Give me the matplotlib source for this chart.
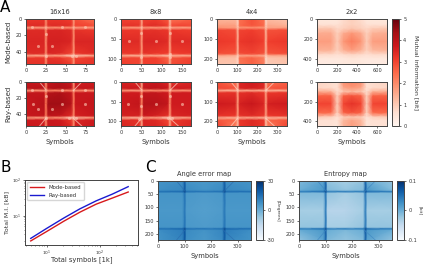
import matplotlib
matplotlib.use("Agg")
import matplotlib.pyplot as plt
import numpy as np

W, H = 423.0, 270.0

# line nodes of the maps, as fractions of the axis (values below sit on these)
fine_x = [0, .265, .295, .325, .50, .67, .70, .73, 1]
fine_y = [0, .15, .20, .25, .50, .77, .82, .87, 1]
wide_x = [0, .20, .29, .38, .50, .63, .71, .80, 1]
wide_y = [0, .13, .22, .32, .50, .70, .80, .88, 1]
thin_x = [0, .265, .286, .307, .50, .693, .714, .735, 1]
thin_y = [0, .16, .185, .21, .50, .79, .815, .84, 1]

mode_16 = [[3.2, 3.2, 1.9, 3.2, 3.2, 3.1, 1.7, 2.8, 2.4],
           [3.4, 3.4, 2.1, 3.4, 3.4, 3.3, 2.0, 3.1, 2.9],
           [1.8, 1.7, 1.1, 1.8, 1.9, 1.9, 1.1, 1.7, 1.7],
           [3.4, 3.4, 2.0, 3.5, 3.5, 3.4, 2.0, 3.3, 3.2],
           [3.5, 3.5, 2.0, 3.6, 3.6, 3.5, 2.0, 3.5, 3.5],
           [3.4, 3.4, 2.0, 3.5, 3.4, 3.0, 1.8, 3.2, 3.4],
           [1.6, 1.6, 1.0, 1.7, 1.7, 0.9, 0.8, 1.1, 1.7],
           [3.2, 3.2, 1.9, 3.3, 3.2, 2.8, 1.8, 3.0, 3.2],
           [3.3, 3.3, 2.0, 3.4, 3.4, 3.1, 1.9, 3.2, 3.3]]
ray_16 = [[3.9, 3.7, 1.8, 3.9, 4.1, 3.8, 1.6, 3.6, 3.7],
          [4.0, 4.1, 2.2, 4.1, 4.2, 4.0, 2.2, 3.9, 3.9],
          [1.9, 1.8, 1.1, 2.1, 2.1, 2.1, 1.2, 1.9, 1.9],
          [3.9, 3.9, 2.2, 4.1, 4.2, 3.9, 2.2, 3.8, 3.8],
          [3.8, 4.1, 2.4, 4.4, 4.4, 4.1, 2.3, 3.8, 3.9],
          [3.8, 3.9, 2.2, 4.0, 3.9, 3.4, 2.0, 3.6, 3.8],
          [1.7, 1.7, 1.0, 1.9, 1.8, 0.9, 0.8, 1.2, 1.9],
          [3.7, 3.7, 2.0, 3.8, 3.7, 3.2, 2.0, 3.5, 3.7],
          [3.8, 3.7, 2.0, 3.8, 3.8, 3.4, 2.0, 3.6, 3.8]]
mode_8 = [[3.0, 3.0, 1.5, 3.0, 3.1, 2.7, 1.2, 2.3, 2.6],
          [3.3, 3.3, 1.8, 3.3, 3.4, 3.1, 1.5, 3.0, 3.0],
          [1.8, 1.7, 1.0, 1.8, 1.8, 1.7, 0.9, 1.6, 1.7],
          [3.2, 3.2, 1.8, 3.3, 3.3, 3.2, 1.8, 3.2, 3.1],
          [3.4, 3.4, 1.8, 3.5, 3.5, 3.4, 1.8, 3.4, 3.4],
          [3.2, 3.2, 1.8, 3.3, 3.2, 3.1, 1.6, 3.1, 3.2],
          [1.5, 1.4, 0.9, 1.6, 1.6, 1.2, 0.8, 1.4, 1.6],
          [3.0, 3.0, 1.6, 3.1, 3.1, 2.6, 1.5, 2.8, 3.0],
          [3.1, 3.0, 1.6, 3.1, 3.1, 2.8, 1.5, 2.9, 3.1]]
ray_8 = [[3.6, 3.4, 1.4, 3.7, 3.8, 3.5, 1.3, 3.3, 3.5],
         [3.7, 3.8, 1.9, 3.9, 4.0, 3.8, 1.8, 3.7, 3.7],
         [1.8, 1.7, 1.1, 1.9, 2.0, 1.9, 1.1, 1.8, 1.9],
         [3.7, 3.7, 2.1, 3.9, 3.9, 3.7, 2.0, 3.7, 3.7],
         [3.7, 3.9, 2.2, 4.1, 4.1, 3.9, 2.1, 3.7, 3.7],
         [3.6, 3.6, 2.0, 3.8, 3.6, 3.3, 1.8, 3.5, 3.6],
         [1.5, 1.3, 0.9, 1.7, 1.7, 0.9, 0.8, 1.3, 1.7],
         [3.4, 3.3, 1.7, 3.5, 3.4, 3.0, 1.7, 3.2, 3.4],
         [3.5, 3.3, 1.6, 3.5, 3.5, 3.2, 1.6, 3.2, 3.5]]
mode_4 = [[1.3, 1.3, 0.8, 2.4, 2.8, 2.4, 0.8, 1.2, 1.1],
          [1.7, 1.7, 1.0, 2.5, 2.8, 2.5, 1.0, 1.6, 1.4],
          [1.9, 1.7, 1.1, 1.8, 1.9, 1.8, 1.1, 1.6, 1.7],
          [3.0, 2.9, 1.4, 3.0, 3.1, 2.9, 1.4, 2.8, 2.9],
          [3.2, 3.1, 1.5, 3.2, 3.3, 3.1, 1.5, 3.1, 3.2],
          [2.9, 2.8, 1.4, 2.9, 3.0, 2.8, 1.4, 2.8, 2.9],
          [1.6, 1.5, 0.9, 1.6, 1.7, 1.5, 0.9, 1.5, 1.6],
          [1.2, 1.2, 0.8, 2.4, 2.6, 2.2, 0.8, 1.1, 1.2],
          [1.1, 1.1, 0.7, 2.3, 2.6, 2.2, 0.7, 1.0, 1.1]]
ray_4 = [[2.8, 2.4, 1.2, 3.5, 3.7, 3.5, 1.2, 2.4, 2.6],
         [3.0, 2.8, 1.4, 3.5, 3.6, 3.4, 1.4, 2.8, 2.9],
         [1.5, 1.4, 0.9, 1.5, 1.6, 1.5, 0.9, 1.4, 1.5],
         [3.3, 3.3, 1.7, 3.3, 3.4, 3.2, 1.7, 3.2, 3.3],
         [3.7, 3.6, 1.8, 3.6, 3.8, 3.5, 1.8, 3.6, 3.7],
         [3.3, 3.2, 1.7, 3.3, 3.4, 3.2, 1.7, 3.2, 3.3],
         [1.5, 1.4, 0.9, 1.5, 1.6, 1.4, 0.9, 1.3, 1.5],
         [2.8, 2.5, 1.3, 3.2, 3.4, 3.2, 1.3, 2.5, 2.8],
         [3.0, 2.2, 1.2, 3.2, 3.4, 3.2, 1.2, 2.2, 3.0]]
mode_2 = [[0.4, 0.4, 0.4, 0.7, 0.9, 0.7, 0.4, 0.4, 0.4],
          [0.6, 0.6, 0.6, 0.8, 0.9, 0.8, 0.6, 0.6, 0.6],
          [1.1, 1.1, 0.8, 0.9, 1.1, 0.9, 0.8, 1.0, 1.1],
          [1.5, 1.5, 0.9, 1.5, 1.8, 1.5, 0.9, 1.4, 1.5],
          [1.7, 1.7, 1.0, 1.8, 2.2, 1.8, 1.0, 1.7, 1.7],
          [1.4, 1.4, 0.9, 1.4, 1.7, 1.4, 0.9, 1.3, 1.4],
          [0.7, 0.7, 0.6, 0.7, 0.8, 0.7, 0.6, 0.7, 0.7],
          [0.4, 0.4, 0.4, 0.4, 0.5, 0.4, 0.4, 0.4, 0.4],
          [0.3, 0.3, 0.3, 0.4, 0.4, 0.4, 0.3, 0.3, 0.3]]
ray_2 = [[0.8, 0.7, 0.6, 1.9, 2.1, 1.9, 0.6, 0.7, 0.8],
         [0.8, 0.7, 0.6, 1.6, 1.8, 1.6, 0.6, 0.7, 0.8],
         [1.5, 1.4, 0.7, 1.1, 1.3, 1.1, 0.7, 1.4, 1.5],
         [2.6, 2.6, 0.9, 2.6, 2.8, 2.6, 0.9, 2.6, 2.6],
         [3.0, 3.0, 1.0, 3.0, 3.3, 3.0, 1.0, 3.0, 3.0],
         [2.5, 2.5, 0.9, 2.6, 2.8, 2.6, 0.9, 2.5, 2.5],
         [1.0, 0.9, 0.6, 1.0, 1.1, 1.0, 0.6, 0.9, 1.0],
         [0.6, 0.6, 0.5, 1.3, 1.6, 1.3, 0.5, 0.6, 0.6],
         [0.6, 0.6, 0.5, 1.4, 1.7, 1.4, 0.5, 0.6, 0.6]]

angle_map = [[7, 8, 19, 7, 6, 7, 19, 8, 7],
             [8, 10, 21, 9, 7, 9, 21, 10, 8],
             [15, 16, 25, 15, 14, 15, 25, 16, 15],
             [7, 7, 15, 6, 5, 6, 15, 7, 7],
             [6, 6, 13, 5, 4, 5, 13, 6, 6],
             [7, 7, 15, 6, 5, 6, 15, 7, 7],
             [15, 17, 25, 15, 14, 15, 25, 17, 15],
             [8, 12, 22, 9, 7, 10, 21, 12, 8],
             [7, 11, 21, 8, 6, 9, 20, 10, 7]]
entropy_map = [[-.01, .01, .06, -.02, -.03, -.02, .06, .00, -.02],
               [.00, .02, .07, -.01, -.02, -.01, .07, .02, -.01],
               [.04, .05, .08, .04, .04, .04, .08, .05, .04],
               [-.01, -.01, .05, -.02, -.03, -.02, .05, -.01, -.01],
               [-.03, -.03, .04, -.04, -.04, -.03, .04, -.03, -.03],
               [-.02, -.02, .05, -.03, -.03, -.02, .05, -.02, -.02],
               [.04, .05, .08, .04, .04, .04, .08, .05, .04],
               [.00, .02, .07, .00, -.01, .00, .07, .02, .00],
               [-.02, .01, .06, -.01, -.02, -.01, .06, .01, -.02]]

# x limit, y limit and ticks of each column of panel A
sizes = ["16x16", "8x8", "4x4", "2x2"]
x_lims = [85, 172, 350, 700]
y_lims = [55, 112, 224, 448]
x_ticks = [[0, 25, 50, 75], [0, 50, 100, 150], [0, 100, 200, 300], [0, 200, 400, 600]]
y_ticks = [[0, 20, 40], [0, 50, 100], [0, 100, 200], [0, 200, 400]]
mode_maps = [mode_16, mode_8, mode_4, mode_2]
ray_maps = [ray_16, ray_8, ray_4, ray_2]

# bright spots on the 16x16 and 8x8 maps, symbol and row index
mode_16_spot_x = [15, 33, 25, 45, 74, 8, 58, 62, 25]
mode_16_spot_y = [33, 33, 18, 10, 10, 10, 45, 45, 45]
ray_16_spot_x = [9, 25, 15, 33, 45, 74, 45, 74, 8, 54, 62, 25]
ray_16_spot_y = [28, 18, 34, 34, 28, 28, 10, 10, 10, 45, 45, 45]
mode_8_spot_x = [20, 85, 150, 50, 120, 50, 120, 120]
mode_8_spot_y = [55, 55, 55, 35, 35, 95, 95, 88]
ray_8_spot_x = [18, 85, 150, 50, 120, 45, 115, 125, 50]
ray_8_spot_y = [55, 55, 55, 35, 35, 95, 92, 92, 60]

# corner streaks as fractions of the axis: x0, y0, x1, y1
corner_streaks = [[.20, 0, .29, .17], [.82, 0, .70, .19], [.20, 1, .29, .83], [.82, 1, .70, .83]]

# panel B
total_symbols = [5, 10, 21, 42, 85, 170, 340]
mi_mode = [1.95, 3.6, 7.0, 12.5, 21, 31, 46]
mi_ray = [2.3, 4.4, 8.6, 15.5, 26, 40, 65]

TEXT = "#333333"


def add_axes(fig, left, top, right, bottom):
    return fig.add_axes([left / W, 1 - bottom / H, (right - left) / W, (bottom - top) / H])


def style(ax):
    ax.tick_params(labelsize=3.6, length=1.5, width=0.5, pad=1.5, colors=TEXT)
    for s in ax.spines.values():
        s.set_linewidth(0.7)
        s.set_color("#444444")


def draw_map(ax, values, xn, yn, xlim, ylim, cmap, vmin, vmax):
    x = np.array(xn) * xlim
    y = np.array(yn) * ylim
    m = ax.pcolormesh(x, y, np.array(values), shading="gouraud", cmap=cmap, vmin=vmin, vmax=vmax)
    ax.set_xlim(0, xlim)
    ax.set_ylim(ylim, 0)
    style(ax)
    return m


def streaks(ax, xlim, ylim, color, lw, alpha):
    for x0, y0, x1, y1 in corner_streaks:
        ax.plot([x0 * xlim, x1 * xlim], [y0 * ylim, y1 * ylim], color=color, lw=lw, alpha=alpha)


def cbar(fig, mesh, left, top, right, bottom, ticks, labels):
    cax = add_axes(fig, left, top, right, bottom)
    cb = fig.colorbar(mesh, cax=cax)
    cb.set_ticks(ticks)
    cb.set_ticklabels(labels)
    style(cax)
    cb.outline.set_linewidth(0.7)
    cb.outline.set_edgecolor("#444444")
    return cb


fig = plt.figure(figsize=(W / 100, H / 100), dpi=100)

col_left = [26, 121, 217, 317]
col_right = [94, 191, 287, 387]
spots_top = [(mode_16_spot_x, mode_16_spot_y), (mode_8_spot_x, mode_8_spot_y)]
spots_bottom = [(ray_16_spot_x, ray_16_spot_y), (ray_8_spot_x, ray_8_spot_y)]
for i in range(4):
    xn = wide_x if i == 3 else fine_x
    yn = wide_y if i == 3 else fine_y
    ax = add_axes(fig, col_left[i], 19, col_right[i], 64)
    mesh = draw_map(ax, mode_maps[i], xn, yn, x_lims[i], y_lims[i], "Reds", 0, 5)
    if i < 2:
        ax.scatter(spots_top[i][0], spots_top[i][1], s=5, color="#fdc9b4", alpha=0.6, linewidths=0)
    ax.set_xticks(x_ticks[i])
    ax.set_yticks(y_ticks[i])
    ax.set_title(sizes[i], fontsize=4.8, color=TEXT, pad=3.5)
    if i == 0:
        ax.set_ylabel("Mode-based", fontsize=5, color=TEXT, labelpad=3)

    ax = add_axes(fig, col_left[i], 82, col_right[i], 126)
    mesh = draw_map(ax, ray_maps[i], xn, yn, x_lims[i], y_lims[i], "Reds", 0, 5)
    if i < 2:
        ax.scatter(spots_bottom[i][0], spots_bottom[i][1], s=5, color="#fdc9b4", alpha=0.6, linewidths=0)
    if i < 3:
        streaks(ax, x_lims[i], y_lims[i], "#fdd5c4", 0.7, 0.7)
    ax.set_xticks(x_ticks[i])
    ax.set_yticks(y_ticks[i])
    ax.set_xlabel("Symbols", fontsize=4.9, color=TEXT, labelpad=3)
    if i == 0:
        ax.set_ylabel("Ray-based", fontsize=5, color=TEXT, labelpad=3)

cb = cbar(fig, mesh, 392, 19, 399, 126, [0, 1, 2, 3, 4, 5], ["0", "1", "2", "3", "4", "5"])
cb.set_label("Mutual information [bit]", fontsize=4.5, color=TEXT, rotation=270, labelpad=9)

ax = add_axes(fig, 25, 180, 138, 245)
ax.plot(total_symbols, mi_mode, color="#d7191c", lw=1.0, label="Mode-based")
ax.plot(total_symbols, mi_ray, color="#1a1ad0", lw=1.0, label="Ray-based")
ax.set_xscale("log")
ax.set_yscale("log")
ax.set_xlim(3.9, 520)
ax.set_ylim(1.5, 100)
style(ax)
ax.tick_params(labelsize=3.2, pad=1)
ax.tick_params(which="minor", length=1, width=0.4, colors=TEXT)
ax.tick_params(axis="y", which="minor", labelleft=False)
ax.tick_params(axis="x", which="minor", labelbottom=False)
ax.set_xlabel("Total symbols [1k]", fontsize=4.9, color=TEXT, va="center")
ax.xaxis.set_label_coords(0.5, -0.23)
ax.set_ylabel("Total M.I. [kB]", fontsize=4.5, color=TEXT, labelpad=2)
ax.legend(loc="upper left", fontsize=3.9, labelcolor=TEXT, handlelength=2.6, borderpad=0.5,
          labelspacing=0.5, borderaxespad=0.4)

ax = add_axes(fig, 158, 181, 251, 240)
mesh = draw_map(ax, angle_map, thin_x, thin_y, 350, 224, "Blues", -30, 30)
streaks(ax, 350, 224, "#2b6cae", 0.6, 0.7)
ax.set_xticks([0, 100, 200, 300])
ax.set_yticks([0, 50, 100, 150, 200])
ax.set_title("Angle error map", fontsize=4.8, color=TEXT, pad=3.5)
ax.set_xlabel("Symbols", fontsize=4.9, color=TEXT, labelpad=3)
cb = cbar(fig, mesh, 256, 181, 263, 240, [-30, 0, 30], ["-30", "0", "30"])
cb.set_label("[Degrees]", fontsize=3.2, color=TEXT, rotation=270, labelpad=3)

ax = add_axes(fig, 299, 181, 392, 240)
mesh = draw_map(ax, entropy_map, thin_x, thin_y, 350, 224, "Blues", -0.1, 0.1)
streaks(ax, 350, 224, "#3f86c2", 0.6, 0.7)
ax.set_xticks([0, 100, 200, 300])
ax.set_yticks([0, 50, 100, 150, 200])
ax.set_title("Entropy map", fontsize=4.8, color=TEXT, pad=3.5)
ax.set_xlabel("Symbols", fontsize=4.9, color=TEXT, labelpad=3)
cb = cbar(fig, mesh, 397, 181, 404, 240, [-0.1, 0, 0.1], ["-0.1", "0", "0.1"])
cb.set_label("[bit]", fontsize=3.2, color=TEXT, rotation=270, labelpad=3)

for letter, px, py in [("A", 0, 12), ("B", 0, 172), ("C", 145, 172)]:
    fig.text(px / W, 1 - py / H, letter, fontsize=11, color="black")

fig.savefig("out.png", dpi=100)
